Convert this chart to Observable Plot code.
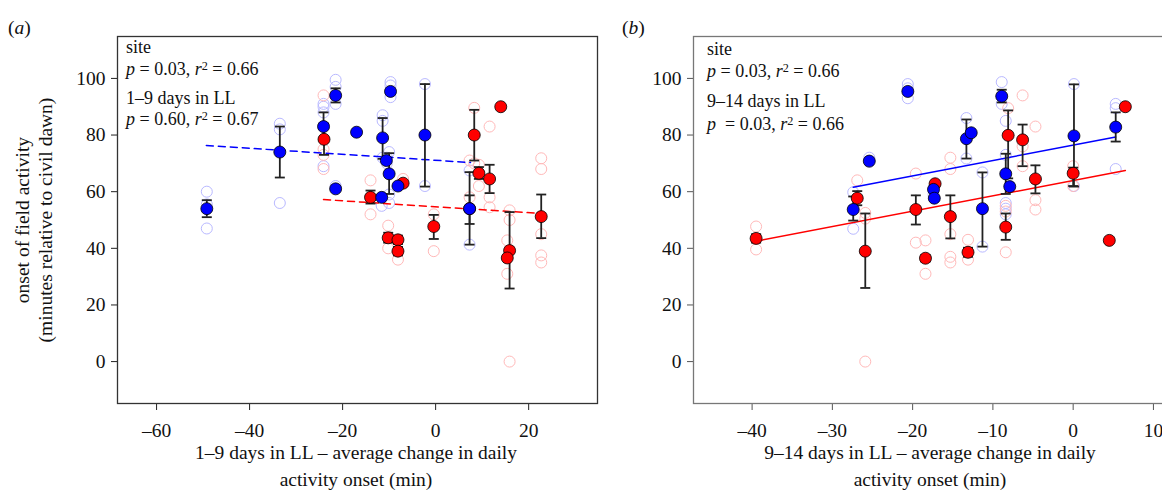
<!DOCTYPE html>
<html><head><meta charset="utf-8">
<script src="https://cdn.jsdelivr.net/npm/d3@7"></script>
<script src="https://cdn.jsdelivr.net/npm/@observablehq/plot@0.6"></script>
<style>
html,body{margin:0;padding:0;background:#fff;overflow:hidden;}
#wrap{position:relative;width:1162px;height:494px;overflow:hidden;font-family:"Liberation Serif","Times New Roman",serif;color:#111;}
.abs{position:absolute;white-space:nowrap;}
.ann{font-size:18px;line-height:22px;}
.sup{position:relative;top:-0.45em;font-size:0.68em;}
</style></head><body><div id="wrap"></div>
<script>
// ---- data ----
const yTicks = [0, 20, 40, 60, 80, 100];
const aTicks = [-60, -40, -20, 0, 20];
const bTicks = [-40, -30, -20, -10, 0, 10];

// panel (a): means [x, y, lo, hi]
const aBlueMeans = [
  [-49.2, 54, 51, 57], [-33.5, 74, 65, 83], [-24.1, 83, 78, 88], [-21.5, 94, 91.5, 96.5],
  [-21.5, 61, null, null], [-17, 81, null, null], [-11.4, 79, 71.6, 86], [-10.6, 71, null, null],
  [-10, 66.3, 59.2, 73.6], [-11.6, 58, null, null], [-8.1, 62, null, null], [-9.7, 95.4, null, null],
  [-2.3, 80, 61.8, 98], [7.3, 54, 41.3, 66.9]
];
const aRedMeans = [
  [-24, 78.5, 73, 84], [-14, 58, 55.8, 60.4], [-7, 63, null, null], [-10.2, 43.7, 42, 45.5],
  [-8.1, 43, 41.5, 44.5], [-8.1, 39, 37.5, 40.5], [-0.4, 47.7, 43.3, 51.8], [7.3, 54, 48.6, 58.7],
  [8.3, 80, 71, 88.9], [9.3, 66.5, 64.5, 68.7], [11.6, 64.5, 59.5, 69.5], [14, 90, null, null],
  [15.9, 39.2, 25.8, 52.8], [15.4, 36.6, null, null], [22.7, 51.2, 43.6, 59]
];
// individual observations [x, value]
const aBlueIndiv = [
  [-49.2, 60], [-49.2, 55.5], [-49.2, 47], [-33.5, 84], [-33.5, 82], [-33.5, 56],
  [-24.1, 91], [-24.1, 90], [-24.1, 88], [-24.1, 69], [-21.5, 99.5], [-21.5, 97], [-21.5, 91],
  [-21.5, 62], [-11.4, 87], [-11.4, 85], [-11.4, 72], [-10.5, 72], [-10.5, 70], [-10, 74],
  [-10, 59], [-10, 56], [-11.6, 55], [-9.7, 98.7], [-9.7, 97.5], [-9.7, 93.4], [-2.3, 98],
  [-2.3, 62], [7.3, 67.5], [7.3, 41.3]
];
const aRedIndiv = [
  [-24.1, 94], [-24.1, 75], [-24.1, 73], [-24.1, 68], [-14, 64], [-14, 52], [-7, 64.5],
  [-10.2, 48], [-10.2, 40], [-8.1, 36], [-0.4, 52], [-0.4, 39], [7.3, 71], [7.3, 58],
  [8.3, 89.6], [8.3, 70], [9.3, 69.5], [9.3, 62], [11.6, 83], [11.6, 58], [11.6, 54.5],
  [15.9, 53.4], [15.9, 50], [15.4, 42.8], [15.4, 31], [15.9, 0], [22.7, 71.8], [22.7, 68],
  [22.7, 45], [22.7, 37.5], [22.7, 35]
];
const aBlueFit = [[-49.3, 76.3], [7.5, 70.3]];
const aRedFit = [[-24.1, 57.2], [22.6, 52.3]];

// panel (b)
const bBlueMeans = [
  [-20.6, 95.4, null, null], [-25.4, 70.8, null, null], [-27.4, 53.7, 49.8, 58.3],
  [-17.4, 60.8, null, null], [-17.3, 57.7, null, null], [-13.3, 78.7, 71.7, 85.5],
  [-12.7, 80.8, null, null], [-8.9, 93.7, 91.5, 96], [-8.4, 66.3, 59.2, 73.4],
  [-7.9, 61.8, null, null], [-11.3, 54, 40.6, 66.8], [0.1, 79.7, 61.8, 97.9], [5.3, 82.8, 77.7, 88]
];
const bRedMeans = [
  [-39.5, 43.5, 42, 45], [-26.9, 57.7, 55.2, 60.2], [-25.9, 39, 26, 52.3], [-19.6, 53.7, 48.4, 58.7],
  [-18.4, 36.5, 35.3, 37.7], [-17.2, 62.8, null, null], [-15.3, 51.2, 43.5, 58.7],
  [-13.1, 38.6, 37, 40.2], [-8.4, 47.5, 43, 52.3], [-8.1, 79.9, 64.7, 88.7], [-6.3, 78.3, 69, 83.7],
  [-4.7, 64.5, 59.4, 69.3], [0, 66.5, 62, 68.5], [6.5, 90, null, null], [4.5, 42.8, null, null]
];
const bBlueIndiv = [
  [-20.6, 98], [-20.6, 96.5], [-20.6, 93], [-25.4, 72], [-25.4, 70.5], [-27.4, 59.8], [-27.4, 46.9],
  [-17.4, 59], [-13.3, 86], [-13.3, 71.7], [-8.9, 98.7], [-8.9, 91], [-8.4, 85], [-8.4, 73],
  [-8.4, 56], [-8.4, 54], [-8.4, 52], [-11.3, 66.8], [-11.3, 40.6], [0.1, 98], [0.1, 62],
  [5.3, 91], [5.3, 89.5], [5.3, 68]
];
const bRedIndiv = [
  [-39.5, 47.7], [-39.5, 39.6], [-26.9, 64], [-25.9, 52.5], [-25.9, 50.5], [-25.9, 0],
  [-19.6, 66.4], [-19.6, 42], [-18.4, 42.8], [-18.4, 31], [-15.3, 72], [-15.3, 68], [-15.3, 45],
  [-15.3, 37], [-15.3, 35], [-13.1, 43], [-13.1, 36], [-8.4, 53], [-8.4, 55], [-8.4, 38.6],
  [-8.1, 89.5], [-6.3, 94], [-6.3, 76], [-6.3, 69], [-4.7, 83], [-4.7, 57], [-4.7, 53.7],
  [0, 69], [0, 62]
];
const bBlueFit = [[-27.4, 61.6], [5.3, 79.3]];
const bRedFit = [[-39.5, 42.5], [6.5, 67.5]];

// ---- drawing ----
const BLUE = "#0000ff", RED = "#ff0000", LBLUE = "#b9b9ff", LRED = "#ffb9b9";
const cap = {draw(ctx) { ctx.moveTo(-5, 0); ctx.lineTo(5, 0); }};
const toMeans = a => a.map(([x, y, lo, hi]) => ({x, y, lo, hi}));
const toInd = a => a.map(([x, v]) => ({x, v}));
const toFit = a => a.map(([x, y]) => ({x, y}));
const fmt = d => d < 0 ? "\u2013" + Math.abs(d) : String(d);

function panel(o) {
  const mB = toMeans(o.meansB), mR = toMeans(o.meansR);
  const eb = [...mR, ...mB].filter(d => d.lo != null);
  return Plot.plot({
    width: o.width, height: 494,
    marginLeft: o.marginLeft, marginRight: o.marginRight, marginTop: 36, marginBottom: 91,
    x: {domain: o.xDomain}, y: {domain: [-14.8, 114.8]},
    style: {fontFamily: "'Liberation Serif', serif", fontSize: "19.5px", color: "#111", background: "transparent", overflow: "visible"},
    marks: [
      Plot.axisY({ticks: yTicks, tickSize: 6, tickPadding: 6, label: null, tickFormat: fmt, stroke: o.axisColor}),
      Plot.axisX({ticks: o.xTicks, tickSize: 7, tickPadding: 13, label: null, tickFormat: fmt, stroke: o.axisColor}),
      Plot.frame({stroke: o.frameColor, strokeWidth: 1.3}),
      Plot.dot(toInd(o.indB), {x: "x", y: "v", r: 5.5, stroke: LBLUE, fill: "none", strokeWidth: 1}),
      Plot.dot(toInd(o.indR), {x: "x", y: "v", r: 5.5, stroke: LRED, fill: "none", strokeWidth: 1}),
      Plot.line(toFit(o.fitB), {x: "x", y: "y", stroke: BLUE, strokeWidth: 1.5, strokeDasharray: o.dash}),
      Plot.line(toFit(o.fitR), {x: "x", y: "y", stroke: RED, strokeWidth: 1.5, strokeDasharray: o.dash}),
      Plot.ruleX(eb, {x: "x", y1: "lo", y2: "hi", stroke: "#222", strokeWidth: 1.8}),
      Plot.dot(eb, {x: "x", y: "lo", symbol: cap, fill: "none", stroke: "#222", strokeWidth: 1.8}),
      Plot.dot(eb, {x: "x", y: "hi", symbol: cap, fill: "none", stroke: "#222", strokeWidth: 1.8}),
      Plot.dot(mR, {x: "x", y: "y", r: 6, fill: RED, stroke: "#000", strokeWidth: 0.8}),
      Plot.dot(mB, {x: "x", y: "y", r: 6, fill: BLUE, stroke: "#000", strokeWidth: 0.8})
    ]
  });
}

const wrap = document.getElementById("wrap");
function place(node, left, top) {
  node.style.position = "absolute"; node.style.left = left + "px"; node.style.top = top + "px";
  wrap.appendChild(node);
}
place(panel({meansB: aBlueMeans, meansR: aRedMeans, indB: aBlueIndiv, indR: aRedIndiv,
  fitB: aBlueFit, fitR: aRedFit, xDomain: [-68.4, 34.8], xTicks: aTicks,
  width: 600, marginLeft: 117, marginRight: 3, dash: "7,5", axisColor: "#222", frameColor: "#333"}), 0, 0);
place(panel({meansB: bBlueMeans, meansR: bRedMeans, indB: bBlueIndiv, indR: bRedIndiv,
  fitB: bBlueFit, fitR: bRedFit, xDomain: [-47.3, 12.5], xTicks: bTicks,
  width: 575, marginLeft: 93, marginRight: 2, dash: null, axisColor: "#555", frameColor: "#777"}), 600, 0);

function html(str, left, top, cls, extra) {
  const d = document.createElement("div");
  d.className = "abs " + (cls || "");
  d.innerHTML = str;
  d.style.left = left + "px"; d.style.top = top + "px";
  if (extra) Object.assign(d.style, extra);
  wrap.appendChild(d);
  return d;
}
const pr = (p, r) => `<i>p</i> = ${p}, <i>r</i><span class="sup">2</span> = ${r}`;
// panel labels
html("(<i>a</i>)", 8, 17, "", {fontSize: "19.5px", lineHeight: "22px"});
html("(<i>b</i>)", 622, 17, "", {fontSize: "19.5px", lineHeight: "22px"});
// annotations
html("site", 126, 36, "ann");
html(pr("0.03", "0.66"), 126, 58, "ann");
html("1–9 days in LL", 126, 87, "ann");
html(pr("0.60", "0.67"), 126, 108, "ann");
html("site", 707, 38, "ann");
html(pr("0.03", "0.66"), 707, 60, "ann");
html("9–14 days in LL", 707, 90, "ann");
html(`<i>p</i>&nbsp; = 0.03, <i>r</i><span class="sup">2</span> = 0.66`, 707, 113, "ann");
// axis titles
html("1–9 days in LL – average change in daily<br>activity onset (min)", 56, 439, "",
  {width: "600px", textAlign: "center", fontSize: "19.5px", lineHeight: "27px"});
html("9–14 days in LL – average change in daily<br>activity onset (min)", 630, 439, "",
  {width: "600px", textAlign: "center", fontSize: "19.5px", lineHeight: "27px"});
html("onset of field activity<br>(minutes relative to civil dawn)", 33.5 - 200, 197, "",
  {width: "400px", height: "46px", textAlign: "center", fontSize: "19.5px", lineHeight: "23px", transform: "rotate(-90deg)"});
</script></body></html>
